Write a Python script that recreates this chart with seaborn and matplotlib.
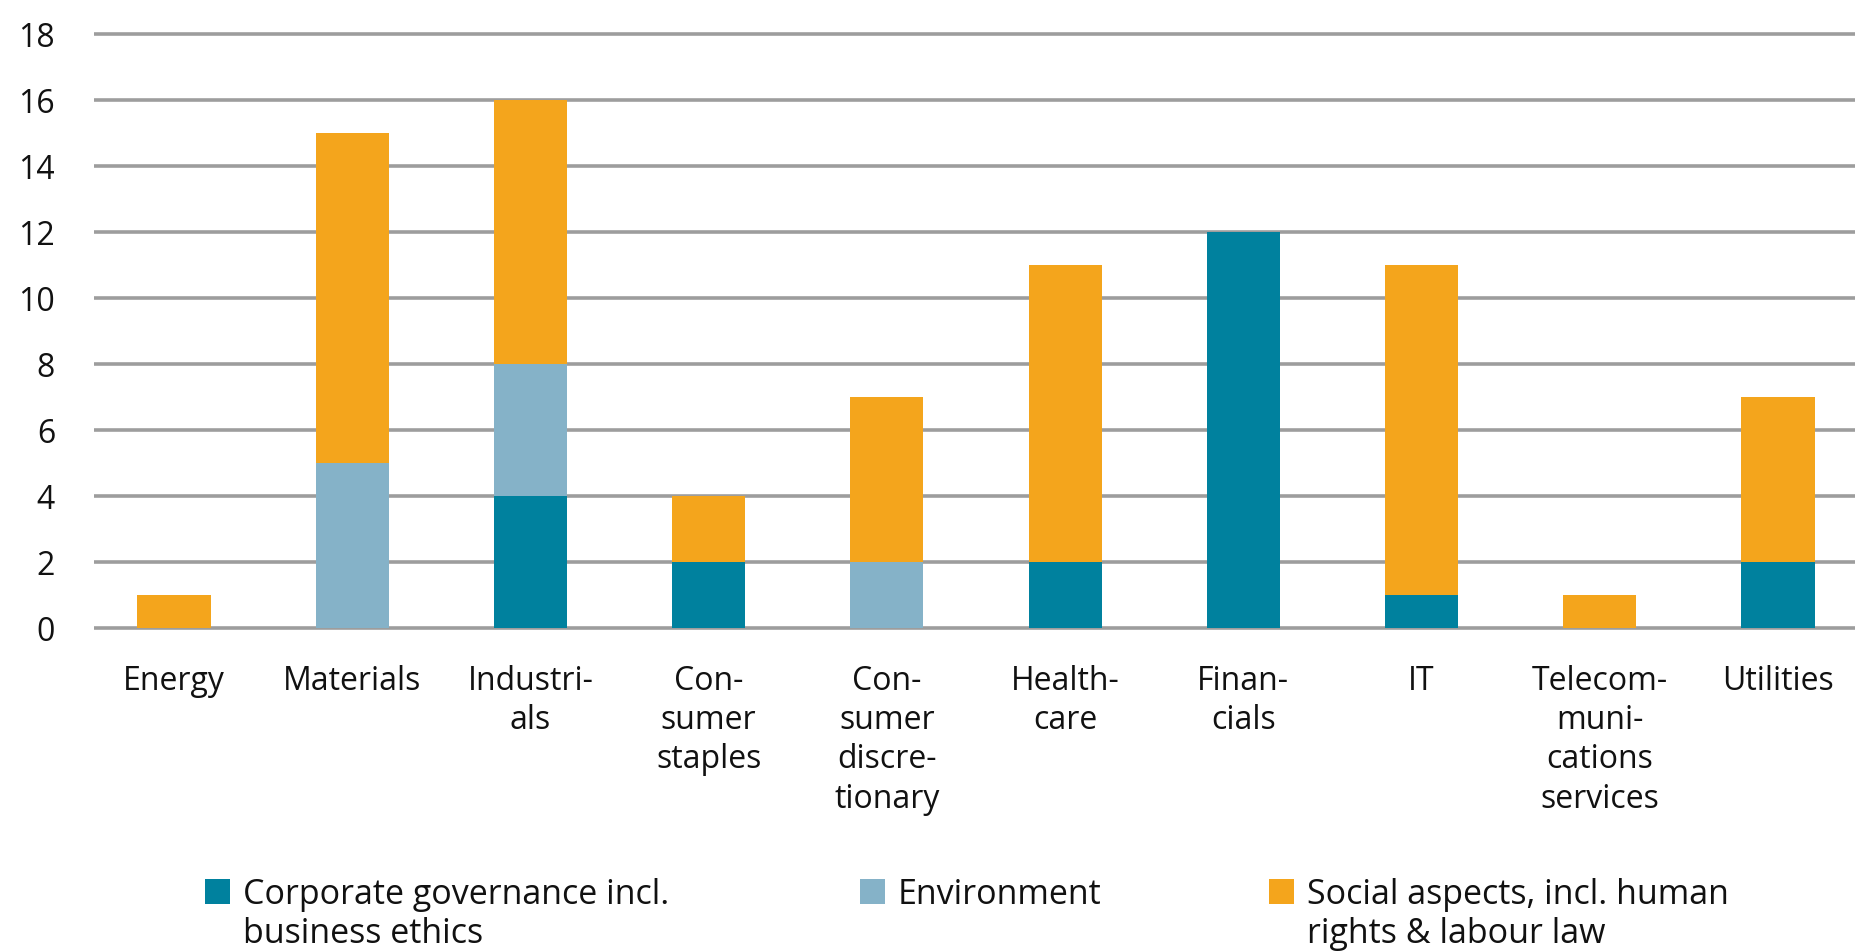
import numpy as np
import pandas as pd
import matplotlib
matplotlib.use("Agg")
import matplotlib.pyplot as plt
import matplotlib.patches as mpatches
import seaborn as sns

# Sector labels (hyphenated line breaks as printed under the bars)
sectors = [
    "Energy", "Materials", "Industri-\nals", "Con-\nsumer\nstaples",
    "Con-\nsumer\ndiscre-\ntionary", "Health-\ncare", "Finan-\ncials", "IT",
    "Telecom-\nmuni-\ncations\nservices", "Utilities",
]

# Number of cases per sector and topic
governance = [0, 0, 4, 2, 0, 2, 12, 1, 0, 2]
environment = [0, 5, 4, 0, 2, 0, 0, 0, 0, 0]
social = [1, 10, 8, 2, 5, 9, 0, 10, 1, 5]

series_names = [
    ["Corporate governance incl.", "business ethics"],
    ["Environment"],
    ["Social aspects, incl. human", "rights & labour law"],
]
colors = ["#00819e", "#85b2c8", "#f4a51c"]

yticks = [0, 2, 4, 6, 8, 10, 12, 14, 16, 18]

sns.set_theme(style="white")
plt.rcParams["font.family"] = ["Open Sans", "DejaVu Sans"]

W, H = 1855, 951
fig = plt.figure(figsize=(W / 100, H / 100), dpi=100)
ax = fig.add_axes([94 / W, 1 - 633 / H, 1 - 94 / W, (633 - 17.5) / H])

df = pd.DataFrame({"sector": sectors, "gov": governance,
                   "env": environment, "soc": social})
bottom_env = np.array(governance)
bottom_soc = np.array(governance) + np.array(environment)

bar_kw = dict(x="sector", order=sectors, width=0.41, errorbar=None,
              linewidth=0, ax=ax, zorder=3)
sns.barplot(data=df, y="gov", color=colors[0], saturation=1, **bar_kw)
sns.barplot(data=df, y="env", color=colors[1], saturation=1,
            bottom=bottom_env, **bar_kw)
sns.barplot(data=df, y="soc", color=colors[2], saturation=1,
            bottom=bottom_soc, **bar_kw)

ax.set_xlim(-0.449, 9.432)
ax.set_ylim(-0.15, 18.5)
ax.set_yticks(yticks)
ax.set_yticklabels([str(t) for t in yticks])
ax.set_xlabel("")
ax.set_ylabel("")
ax.yaxis.grid(True, color="#9d9d9d", linewidth=2.6, zorder=0)
ax.set_axisbelow(True)
for s in ax.spines.values():
    s.set_visible(False)
ax.tick_params(axis="y", length=0, pad=28, labelsize=23, labelcolor="#111111")
ax.tick_params(axis="x", length=0, pad=23, labelsize=23, labelcolor="#111111")
for lab in ax.get_xticklabels():
    lab.set_linespacing(1.25)
    lab.set_horizontalalignment("center")

# Legend: square swatch aligned with the first text line
entry_x = [205, 860, 1269]
for x0, col, lines in zip(entry_x, colors, series_names):
    fig.add_artist(mpatches.Rectangle((x0 / W, 1 - 904 / H), 25 / W, 25 / H,
                                      transform=fig.transFigure,
                                      facecolor=col, edgecolor="none"))
    for i, line in enumerate(lines):
        fig.text((x0 + 38) / W, 1 - (904 + 39 * i) / H, line,
                 fontsize=24.5, color="#111111", va="baseline", ha="left")

fig.savefig("out.png", dpi=100)
